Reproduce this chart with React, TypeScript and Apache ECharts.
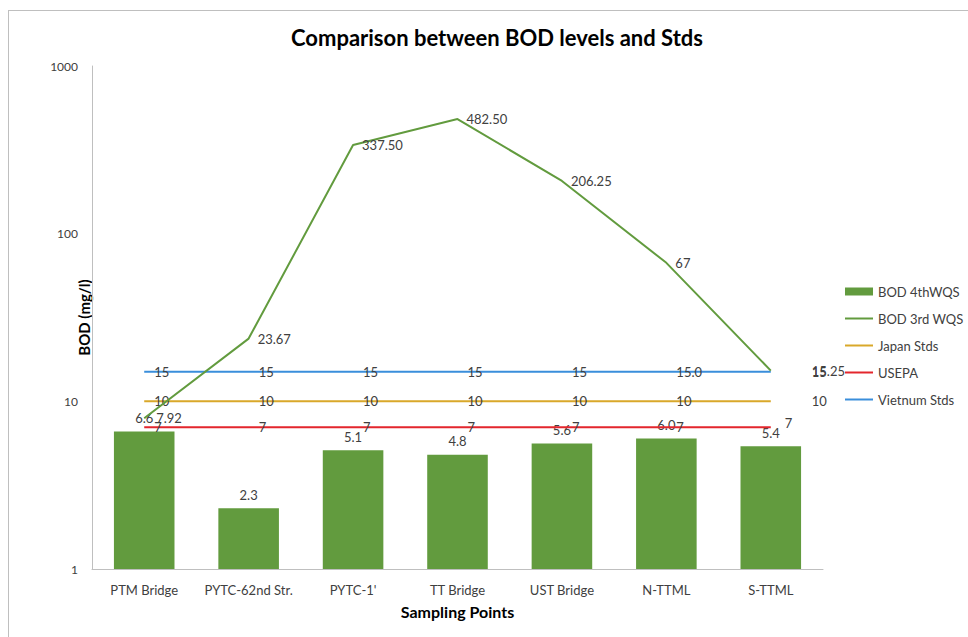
import React, { useEffect, useRef } from "react";
import * as echarts from "echarts";

const categories = ["PTM Bridge", "PYTC-62nd Str.", "PYTC-1'", "TT Bridge", "UST Bridge", "N-TTML", "S-TTML"];
const bod4th = [6.6, 2.3, 5.1, 4.8, 5.6, 6.0, 5.4];
const bod3rd = [7.92, 23.67, 337.5, 482.5, 206.25, 67, 15.25];
const bod3rdLabels = ["7.92", "23.67", "337.50", "482.50", "206.25", "67", "15.25"];
const japanStds = [10, 10, 10, 10, 10, 10, 10];
const usepaStds = [7, 7, 7, 7, 7, 7, 7];
const vietnamStds = [15, 15, 15, 15, 15, 15, 15];
const vietnamLabels = ["15", "15", "15", "15", "15", "15.0", "15"];
const yTicks = [1, 10, 100, 1000];

const FONT = "Lato, 'Open Sans', sans-serif";
const TXT = "#404040";
const LINE_ICON = "path://M0,0L28,0L28,2L0,2Z";

export default function App() {
  const ref = useRef<HTMLDivElement>(null);
  useEffect(() => {
    if (!ref.current) return;
    const chart = echarts.init(ref.current, undefined, { renderer: "svg" });
    const last = categories.length - 1;
    const stdLine = (name: string, data: number[], color: string, labels: string[] | null, lastLabel: any) => ({
      name,
      type: "line",
      data: data.map((v, i) =>
        i === last ? { value: v, label: lastLabel } : { value: v }
      ),
      symbol: "circle",
      symbolSize: 0,
      showSymbol: true,
      lineStyle: { color, width: 2 },
      itemStyle: { color },
      z: 3,
      label: {
        show: true,
        position: "right",
        distance: 10,
        color: TXT,
        fontFamily: FONT,
        fontSize: 13,
        formatter: (p: any) => (labels ? labels[p.dataIndex] : String(p.value)),
      },
    });
    chart.setOption({
      animation: false,
      textStyle: { fontFamily: FONT },
      title: {
        text: "Comparison between BOD levels and Stds",
        left: 492,
        textAlign: "center",
        top: 21,
        textStyle: { fontFamily: FONT, fontSize: 22, fontWeight: "bold", color: "#000" },
      },
      graphic: [
        { type: "line", shape: { x1: 8, y1: 10.5, x2: 968, y2: 10.5 }, style: { stroke: "#bfbfbf", lineWidth: 1 } },
        { type: "line", shape: { x1: 8.5, y1: 10, x2: 8.5, y2: 637 }, style: { stroke: "#bfbfbf", lineWidth: 1 } },
      ],
      legend: {
        orient: "vertical",
        left: 840,
        top: 280,
        itemGap: 14,
        itemWidth: 28,
        itemHeight: 8,
        textStyle: { fontFamily: FONT, fontSize: 13, color: TXT },
        data: [
          { name: "BOD 4thWQS", icon: "rect" },
          { name: "BOD 3rd WQS", icon: LINE_ICON },
          { name: "Japan Stds", icon: LINE_ICON },
          { name: "USEPA", icon: LINE_ICON },
          { name: "Vietnum Stds", icon: LINE_ICON },
        ],
      },
      grid: { left: 92, right: 145, top: 66, bottom: 68, containLabel: false },
      xAxis: {
        type: "category",
        data: categories,
        boundaryGap: true,
        axisLine: { lineStyle: { color: "#bfbfbf", width: 1 } },
        axisTick: { show: false },
        axisLabel: { color: TXT, fontFamily: FONT, fontSize: 13, margin: 14, interval: 0 },
        name: "Sampling Points",
        nameLocation: "middle",
        nameGap: 34,
        nameMoveOverlap: false,
        nameTextStyle: { fontFamily: FONT, fontSize: 16, fontWeight: "bold", color: "#000" },
      },
      yAxis: {
        type: "log",
        logBase: 10,
        min: yTicks[0],
        max: yTicks[yTicks.length - 1],
        axisLine: { show: true, lineStyle: { color: "#bfbfbf", width: 1 } },
        axisTick: { show: false },
        splitLine: { show: false },
        axisLabel: {
          color: TXT,
          fontFamily: FONT,
          fontSize: 12,
          margin: 14,
          formatter: (v: number) => String(Math.round(v)),
        },
        name: "BOD (mg/l)",
        nameLocation: "middle",
        nameGap: 8,
        nameRotate: 90,
        nameMoveOverlap: false,
        nameTextStyle: {
          fontFamily: FONT,
          fontSize: 15,
          fontWeight: "bold",
          color: "#000",
          verticalAlign: "middle",
        },
      },
      series: [
        {
          name: "BOD 4thWQS",
          type: "bar",
          data: bod4th,
          barWidth: "58%",
          itemStyle: { color: "#629b3e" },
          z: 2,
          label: {
            show: true,
            position: "top",
            distance: 7,
            color: TXT,
            fontFamily: FONT,
            fontSize: 13,
            formatter: (p: any) => Number(p.value).toFixed(1),
          },
        },
        {
          name: "BOD 3rd WQS",
          type: "line",
          data: bod3rd.map((v, i) =>
            i === last
              ? { value: v, label: { distance: 41 } }
              : i === 0
              ? { value: v, label: { distance: 12 } }
              : { value: v }
          ),
          symbol: "circle",
          symbolSize: 0,
          showSymbol: true,
          lineStyle: { color: "#629b3e", width: 2 },
          itemStyle: { color: "#629b3e" },
          z: 4,
          label: {
            show: true,
            position: "right",
            distance: 9,
            color: TXT,
            fontFamily: FONT,
            fontSize: 13,
            formatter: (p: any) => bod3rdLabels[p.dataIndex],
          },
        },
        stdLine("Japan Stds", japanStds, "#d9a82a", null, { distance: 41 }),
        stdLine("USEPA", usepaStds, "#e3262d", null, { distance: 14, offset: [0, -4] }),
        stdLine("Vietnum Stds", vietnamStds, "#3a8edb", vietnamLabels, { distance: 41 }),
      ],
    });
    return () => chart.dispose();
  }, []);
  return (
    <div
      ref={ref}
      style={{ position: "absolute", left: 0, top: 0, width: 968, height: 637, background: "#fff" }}
    />
  );
}
